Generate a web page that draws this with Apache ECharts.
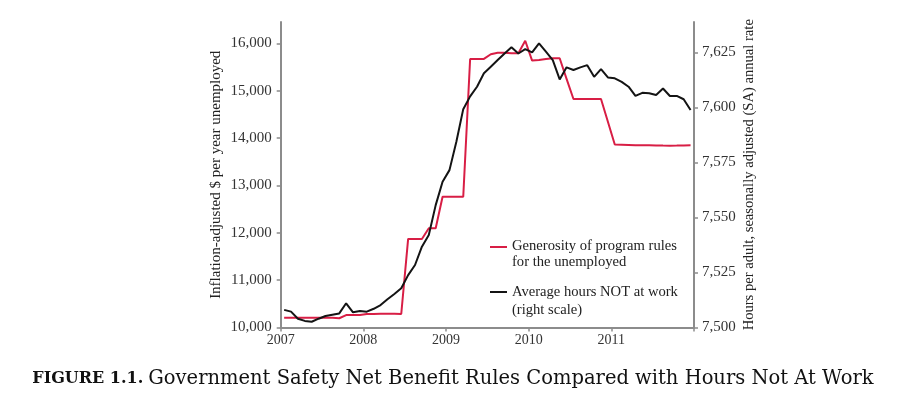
<!DOCTYPE html>
<html>
<head>
<meta charset="utf-8">
<script src="https://cdn.jsdelivr.net/npm/echarts@6/dist/echarts.min.js"></script>
<style>
html,body{margin:0;padding:0;background:#fff;}
#chart{width:906px;height:394px;}
</style>
</head>
<body>
<div id="chart"></div>
<script>
// Monthly observations, Jan 2007 – Dec 2011
const months = [
 '2007-01','2007-02','2007-03','2007-04','2007-05','2007-06','2007-07','2007-08','2007-09','2007-10','2007-11','2007-12',
 '2008-01','2008-02','2008-03','2008-04','2008-05','2008-06','2008-07','2008-08','2008-09','2008-10','2008-11','2008-12',
 '2009-01','2009-02','2009-03','2009-04','2009-05','2009-06','2009-07','2009-08','2009-09','2009-10','2009-11','2009-12',
 '2010-01','2010-02','2010-03','2010-04','2010-05','2010-06','2010-07','2010-08','2010-09','2010-10','2010-11','2010-12',
 '2011-01','2011-02','2011-03','2011-04','2011-05','2011-06','2011-07','2011-08','2011-09','2011-10','2011-11','2011-12'
];
// Generosity of program rules (left scale, $)
const generosity = [
 10205,10205,10205,10205,10205,10205,10205,10205,10195,10262,10262,10265,
 10285,10285,10290,10290,10290,10285,11870,11870,11870,12095,12095,12760,
 12760,12760,12760,15670,15670,15670,15770,15800,15800,15790,15790,16055,
 15635,15650,15670,15685,15685,15250,14825,14825,14825,14825,14825,14345,
 13865,13860,13855,13850,13848,13846,13843,13840,13838,13840,13845,13848
];
// Average hours NOT at work (right scale)
const hoursNotWork = [
 7508.0,7507.2,7504.0,7503.0,7502.6,7504.0,7505.2,7505.8,7506.4,7511.0,7506.9,7507.5,
 7507.2,7508.5,7510.2,7512.8,7515.2,7517.8,7523.8,7528.4,7536.7,7542.0,7555.6,7566.2,
 7571.5,7584.4,7599.2,7605.0,7609.4,7615.5,7618.5,7621.5,7624.5,7627.3,7624.5,7626.5,
 7625.0,7629.1,7625.3,7621.5,7612.7,7618.2,7617.0,7618.2,7619.2,7613.9,7617.4,7613.6,
 7613.2,7611.6,7609.4,7605.2,7606.6,7606.4,7605.6,7608.6,7605.2,7605.2,7603.7,7598.8
];
const xTicks = [2007, 2008, 2009, 2010, 2011, 2012];
const xLabels = [2007, 2008, 2009, 2010, 2011];
const leftTicks = [10000, 11000, 12000, 13000, 14000, 15000, 16000];
const rightTicks = [7500, 7525, 7550, 7575, 7600, 7625];
const seriesNames = ['Generosity of program rules\nfor the unemployed', 'Average hours NOT at work\n(right scale)'];
const leftTitle = 'Inflation-adjusted $ per year unemployed';
const rightTitle = 'Hours per adult, seasonally adjusted (SA) annual rate';
const figLabel = 'FIGURE 1.1.';
const figTitle = 'Government Safety Net Benefit Rules Compared with Hours Not At Work';

function toYear(m) { const p = m.split('-'); return +p[0] + (+p[1] - 0.5) / 12; }
const redData = months.map((m, i) => [toYear(m), generosity[i]]);
const blackData = months.map((m, i) => [toYear(m), hoursNotWork[i]]);
const fmt = v => String(v).replace(/\B(?=(\d{3})+(?!\d))/g, ',');

const FONT = '"Liberation Serif", "DejaVu Serif", serif';
const TFONT = '"DejaVu Serif", serif';
const AX = '#8c8c8c';
const RED = '#d81e45';
const BLK = '#141414';

const chart = echarts.init(document.getElementById('chart'));
chart.setOption({
  backgroundColor: '#fff',
  animation: false,
  grid: { left: 280.7, right: 212, top: 22, bottom: 66.5, containLabel: false },
  title: {
    text: '{b|' + figLabel + '} {n|' + figTitle + '}',
    left: 'center', top: 364,
    textStyle: {
      fontWeight: 'normal',
      rich: {
        b: { fontFamily: TFONT, fontWeight: 'bold', fontSize: 16, color: '#111' },
        n: { fontFamily: TFONT, fontWeight: 'normal', fontSize: 19.5, color: '#111' }
      }
    }
  },
  xAxis: {
    type: 'value', min: 2007, max: 2012, interval: 1,
    axisLine: { lineStyle: { color: AX, width: 2 } },
    axisTick: { show: true, length: 4, lineStyle: { color: AX, width: 1.5 }, customValues: xTicks },
    axisLabel: { customValues: xLabels, formatter: v => String(v), fontFamily: FONT, fontSize: 14, color: '#333', margin: 6 },
    splitLine: { show: false }
  },
  yAxis: [
    {
      type: 'value', min: 10000, max: 16450, interval: 1000, position: 'left',
      name: leftTitle, nameLocation: 'middle', nameGap: 57, nameRotate: 90,
      nameTextStyle: { fontFamily: FONT, fontSize: 15, color: '#222' },
      axisLine: { show: true, lineStyle: { color: AX, width: 2 } },
      axisTick: { show: true, length: 4, lineStyle: { color: AX, width: 1.5 }, customValues: leftTicks },
      axisLabel: { customValues: leftTicks, formatter: fmt, fontFamily: FONT, fontSize: 15, color: '#333', margin: 9 },
      splitLine: { show: false }
    },
    {
      type: 'value', min: 7500, max: 7638.8, interval: 25, position: 'right',
      name: rightTitle, nameLocation: 'middle', nameGap: 48, nameRotate: 90,
      nameTextStyle: { fontFamily: FONT, fontSize: 14.6, color: '#222' },
      axisLine: { show: true, lineStyle: { color: AX, width: 2 } },
      axisTick: { show: true, length: 4, lineStyle: { color: AX, width: 1.5 }, customValues: rightTicks },
      axisLabel: { customValues: rightTicks, formatter: fmt, fontFamily: FONT, fontSize: 15, color: '#333', margin: 8 },
      splitLine: { show: false }
    }
  ],
  series: [
    { name: seriesNames[0], type: 'line', yAxisIndex: 0, data: redData, showSymbol: false, lineStyle: { color: RED, width: 2 }, z: 2 },
    { name: seriesNames[1], type: 'line', yAxisIndex: 1, data: blackData, showSymbol: false, lineStyle: { color: BLK, width: 2 }, z: 3 }
  ],
  graphic: [
    { type: 'line', shape: { x1: 490, y1: 247, x2: 507, y2: 247 }, style: { stroke: RED, lineWidth: 2 } },
    { type: 'text', left: 512, top: 238, style: { text: seriesNames[0], font: '14.6px ' + FONT, fill: '#222', lineHeight: 16 } },
    { type: 'line', shape: { x1: 490, y1: 292, x2: 507, y2: 292 }, style: { stroke: BLK, lineWidth: 2 } },
    { type: 'text', left: 512, top: 283, style: { text: seriesNames[1], font: '14.6px ' + FONT, fill: '#222', lineHeight: 18 } }
  ]
});
</script>
</body>
</html>
